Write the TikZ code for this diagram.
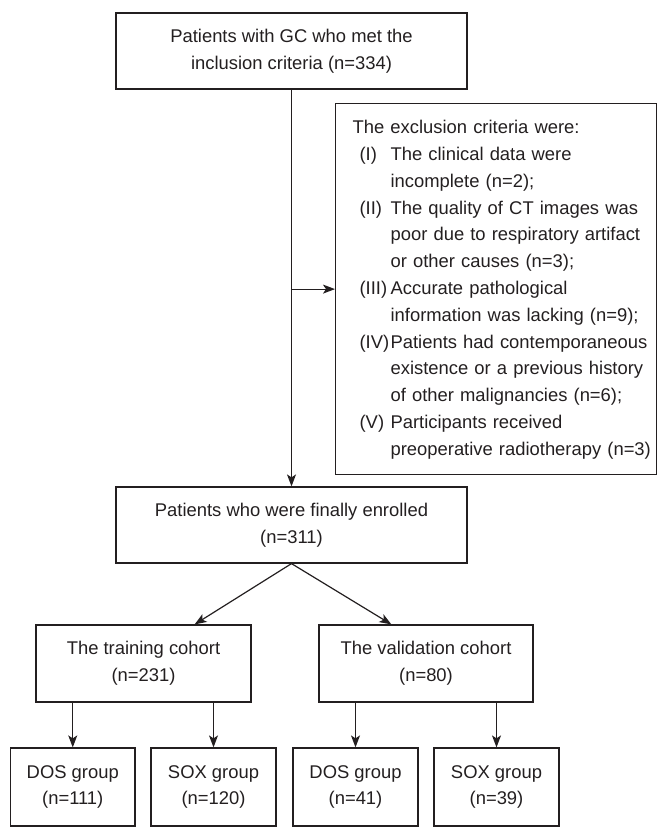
\documentclass[tikz,border=0pt]{standalone}
\usepackage{fontspec}
\setmainfont{Liberation Sans}
\usetikzlibrary{arrows.meta,calc}
\definecolor{ink}{HTML}{231F20}
\begin{document}
\begin{tikzpicture}[x=1pt,y=-1pt,
  every node/.style={font=\fontsize{18.4}{26.8}\selectfont, text=ink},
  box/.style={draw=ink, line width=1.2pt, align=center, inner sep=0pt},
  conn/.style={draw=ink, line width=1.2pt},
  arr/.style={conn, -{Stealth[length=12pt,width=9pt,inset=3pt]}}]
\useasboundingbox (0,0) rectangle (656,827);

\node[box, minimum width=351, minimum height=76] (top) at (291.5,51)
  {Patients with GC who met the\\inclusion criteria (n=334)};

\node[box, anchor=north west, minimum width=320.5, minimum height=371,
      text width=286.5, inner xsep=17pt, align=left] (excl) at (335,103)
  {\begin{tabular}{@{\hspace{7pt}}p{31pt}@{}l@{}}
   \multicolumn{2}{@{}l@{}}{The exclusion criteria were:}\\
   (I) & The clinical data were\\
       & incomplete (n=2);\\
   (II) & The quality of CT images was\\
        & poor due to respiratory artifact\\
        & or other causes (n=3);\\
   (III) & Accurate pathological\\
         & information was lacking (n=9);\\
   (IV) & Patients had contemporaneous\\
        & existence or a previous history\\
        & of other malignancies (n=6);\\
   (V) & Participants received\\
       & preoperative radiotherapy (n=3)
   \end{tabular}};

\node[box, minimum width=351, minimum height=76] (enr) at (291.5,525)
  {Patients who were finally enrolled\\(n=311)};

\node[box, minimum width=215, minimum height=77] (train) at (143.5,663.5)
  {The training cohort\\(n=231)};
\node[box, minimum width=214, minimum height=77] (valid) at (426,663.5)
  {The validation cohort\\(n=80)};

\node[box, minimum width=124.5, minimum height=78] (b1) at (72.75,787)
  {DOS group\\(n=111)};
\node[box, minimum width=125, minimum height=78] (b2) at (213.5,787)
  {SOX group\\(n=120)};
\node[box, minimum width=125, minimum height=78] (b3) at (355.5,787)
  {DOS group\\(n=41)};
\node[box, minimum width=125, minimum height=78] (b4) at (496.5,787)
  {SOX group\\(n=39)};

\draw[arr] (top.south) -- (enr.north);
\coordinate (br) at (top.south |- excl.west);
\draw[arr] (br) -- (excl.west);

\draw[arr] (enr.south) -- ([xshift=-57pt]train.north east);
\draw[arr] (enr.south) -- ([xshift=73pt]valid.north west);

\draw[arr] (b1.north |- train.south) -- (b1.north);
\draw[arr] (b2.north |- train.south) -- (b2.north);
\draw[arr] (b3.north |- valid.south) -- (b3.north);
\draw[arr] (b4.north |- valid.south) -- (b4.north);
\end{tikzpicture}
\end{document}
